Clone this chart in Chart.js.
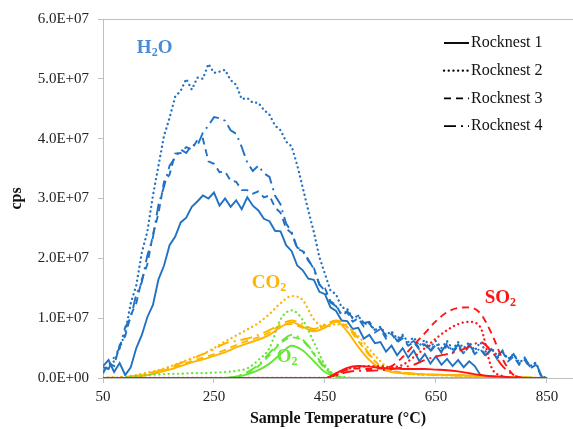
<!DOCTYPE html>
<html>
<head>
<meta charset="utf-8">
<script src="https://cdn.jsdelivr.net/npm/chart.js@4.4.0/dist/chart.umd.min.js"></script>
<style>
  html, body { margin: 0; padding: 0; background: #fff; overflow: hidden; }
  #wrap { width: 573px; height: 429px; position: relative; }
</style>
</head>
<body>
<div id="wrap"><canvas id="egaChart"></canvas></div>
<script>
// Temperaturas (°C) - rejilla fina para H2O, rejilla gruesa para los otros gases
const tempsH2O = [50,60,70,80,90,100,110,120,130,140,150,160,170,180,190,200,210,220,230,240,
  250,260,270,280,290,300,310,320,330,340,350,360,370,380,390,400,410,420,430,440,
  450,460,470,480,490,500,510,520,530,540,550,560,570,580,590,600,610,620,630,640,
  650,660,670,680,690,700,710,720,730,740,750,760,770,780,790,800,810,820,830,840,850];
const tempsGas = [50,70,90,110,130,150,170,190,210,230,250,270,290,310,330,350,370,390,410,430,
  450,470,490,510,530,550,570,590,610,630,650,670,690,710,730,750,770,790,810,830,850];

// Valores en unidades de 1E+07 cps
const h2oRN1 = [0.2,0.3,0.1,0.25,0.05,0.18,0.5,0.72,1.02,1.22,
  1.65,1.88,2.22,2.36,2.6,2.68,2.86,2.95,3.05,3.0,
  3.1,2.88,3.0,2.86,2.97,2.82,3.02,2.88,2.8,2.66,
  2.62,2.46,2.45,2.22,2.12,1.88,1.8,1.66,1.64,1.44,
  1.4,1.18,1.12,0.96,0.95,0.82,0.84,0.66,0.72,0.58,
  0.6,0.44,0.54,0.38,0.5,0.34,0.46,0.28,0.4,0.24,
  0.36,0.22,0.32,0.2,0.3,0.18,0.28,0.2,0.05,0.02,
  0.01,0,0,0,0,0,0,0,0,0,0];
const h2oRN2 = [0.12,0.2,0.28,0.5,0.75,1.25,1.55,2.1,2.45,3.05,
  3.55,4.05,4.35,4.7,4.8,5.0,4.82,5.02,5.0,5.25,
  5.1,5.12,5.15,4.98,4.9,4.66,4.68,4.6,4.6,4.48,
  4.4,4.22,4.14,3.95,3.87,3.56,3.18,2.8,2.44,2.02,
  1.74,1.46,1.4,1.18,1.16,1.0,1.04,0.9,0.92,0.8,
  0.86,0.72,0.78,0.66,0.72,0.6,0.68,0.54,0.64,0.52,
  0.62,0.5,0.62,0.48,0.6,0.5,0.6,0.46,0.6,0.44,
  0.5,0.38,0.44,0.32,0.4,0.26,0.32,0.2,0.26,0.03,0];
const h2oRN3 = [0.08,0.25,0.2,0.55,0.7,1.05,1.25,1.65,1.9,2.4,
  2.75,3.28,3.4,3.75,3.76,3.86,3.82,3.98,4.0,3.62,
  3.58,3.44,3.45,3.3,3.28,3.14,3.14,3.08,3.12,3.02,
  3.05,2.85,2.76,2.5,2.42,2.16,2.12,1.96,1.84,1.56,
  1.5,1.28,1.22,1.05,1.1,0.94,1.0,0.86,0.92,0.76,
  0.82,0.66,0.74,0.6,0.66,0.54,0.6,0.48,0.56,0.44,
  0.56,0.42,0.54,0.42,0.54,0.4,0.54,0.4,0.48,0.36,
  0.48,0.32,0.44,0.28,0.36,0.22,0.3,0.16,0.22,0.03,0];
const h2oRN4 = [0.18,0.15,0.35,0.5,0.85,1.0,1.4,1.6,2.05,2.35,
  2.9,3.2,3.55,3.68,3.82,3.76,3.9,3.88,4.1,4.22,
  4.36,4.34,4.3,4.14,4.08,3.86,3.6,3.46,3.55,3.42,
  3.36,3.05,2.9,2.58,2.44,2.18,2.14,1.98,1.82,1.56,
  1.46,1.26,1.2,1.06,1.12,1.0,1.04,0.92,0.94,0.8,
  0.84,0.7,0.76,0.62,0.7,0.56,0.62,0.5,0.6,0.46,
  0.58,0.44,0.58,0.44,0.56,0.42,0.56,0.42,0.5,0.38,
  0.5,0.34,0.46,0.3,0.4,0.24,0.34,0.18,0.26,0.03,0];

const co2RN1 = [0,0,0,0.02,0.05,0.09,0.14,0.2,0.26,0.31,0.37,0.43,0.51,0.58,0.64,0.72,0.85,0.93,0.86,0.78,
  0.84,0.95,0.78,0.52,0.3,0.16,0.1,0.08,0.07,0.06,0.06,0.05,0.05,0.04,0.04,0.03,0.02,0.01,0.01,0,0];
const co2RN2 = [0,0,0.02,0.05,0.09,0.13,0.19,0.26,0.33,0.4,0.5,0.61,0.71,0.81,0.92,1.07,1.25,1.37,1.3,0.98,
  0.85,0.9,0.85,0.7,0.48,0.28,0.12,0.08,0.06,0.05,0.05,0.04,0.04,0.03,0.03,0.02,0.02,0.01,0.01,0,0];
const co2RN3 = [0,0,0.01,0.03,0.06,0.1,0.16,0.22,0.28,0.34,0.4,0.47,0.55,0.62,0.68,0.76,0.88,0.9,0.84,0.8,
  0.88,0.94,0.85,0.62,0.38,0.2,0.12,0.09,0.07,0.06,0.05,0.05,0.04,0.04,0.03,0.03,0.02,0.01,0.01,0,0];
const co2RN4 = [0,0.01,0.02,0.04,0.08,0.12,0.18,0.25,0.32,0.4,0.48,0.58,0.62,0.66,0.72,0.8,0.9,0.96,0.9,0.82,
  0.9,0.96,0.88,0.66,0.4,0.2,0.12,0.09,0.07,0.06,0.05,0.05,0.04,0.04,0.03,0.03,0.02,0.01,0.01,0,0];

const o2RN1 = [0,0,0,0,0,0,0,0,0,0,0,0,0.02,0.06,0.13,0.24,0.4,0.54,0.46,0.28,
  0.1,0.02,0,0,0,0,0,0,0,0,0,0,0,0,0,0,0,0,0,0,0];
const o2RN2 = [0,0,0.01,0.03,0.05,0.06,0.07,0.07,0.08,0.08,0.09,0.1,0.12,0.16,0.3,0.5,0.98,1.13,0.97,0.6,
  0.22,0.04,0.01,0,0,0,0,0,0,0,0,0,0,0,0,0,0,0,0,0,0];
const o2RN3 = [0,0,0,0,0,0,0,0,0,0,0,0,0.02,0.08,0.2,0.38,0.58,0.68,0.62,0.4,
  0.16,0.03,0,0,0,0,0,0,0,0,0,0,0,0,0,0,0,0,0,0,0];
const o2RN4 = [0,0,0,0,0,0,0,0,0,0,0,0,0.03,0.1,0.22,0.42,0.6,0.72,0.64,0.42,
  0.18,0.04,0,0,0,0,0,0,0,0,0,0,0,0,0,0,0,0,0,0,0];

const so2RN1 = [0,0,0,0,0,0,0,0,0,0,0,0,0,0,0,0,0,0,0,0,
  0,0.08,0.17,0.2,0.19,0.17,0.16,0.15,0.15,0.15,0.14,0.13,0.11,0.08,0.05,0.03,0.02,0.01,0,0,0];
const so2RN2 = [0,0,0,0,0,0,0,0,0,0,0,0,0,0,0,0,0,0,0,0,
  0,0.05,0.15,0.18,0.2,0.2,0.18,0.22,0.35,0.5,0.66,0.8,0.9,0.94,0.85,0.18,0.03,0,0,0,0];
const so2RN3 = [0,0,0,0,0,0,0,0,0,0,0,0,0,0,0,0,0,0,0,0,
  0,0.06,0.14,0.16,0.15,0.16,0.2,0.35,0.55,0.75,0.95,1.1,1.17,1.18,1.08,0.75,0.32,0.05,0,0,0];
const so2RN4 = [0,0,0,0,0,0,0,0,0,0,0,0,0,0,0,0,0,0,0,0,
  0,0.04,0.1,0.12,0.12,0.13,0.15,0.18,0.22,0.3,0.36,0.4,0.45,0.52,0.6,0.45,0.2,0.05,0,0,0];

const sampleNames = ['Rocknest 1', 'Rocknest 2', 'Rocknest 3', 'Rocknest 4'];
const yTicks = [0, 1, 2, 3, 4, 5, 6];
const xTicks = [50, 250, 450, 650, 850];

// Estilos
const COL_H2O = '#2272C3';
const COL_CO2 = '#FFB400';
const COL_O2 = '#66E636';
const COL_SO2 = '#FF1414';
const DASHES = [[], [0.1, 4.6], [7, 5], [12, 5, 2, 5]];
const CAPS = ['butt', 'round', 'butt', 'butt'];
const WIDTHS = [1.9, 2.3, 1.9, 1.9];
const SERIF = '"Liberation Serif", "Times New Roman", serif';

function toXY(temps, vals) {
  return temps.map((t, i) => ({ x: t, y: vals[i] }));
}

function makeSet(label, temps, vals, color, idx) {
  return {
    label: label,
    data: toXY(temps, vals),
    borderColor: color,
    borderWidth: WIDTHS[idx],
    borderDash: DASHES[idx],
    borderCapStyle: CAPS[idx],
    pointRadius: 0,
    fill: false,
    tension: 0,
    cubicInterpolationMode: 'monotone'
  };
}

// El primer dataset queda arriba al dibujar
const datasets = [];
[so2RN1, so2RN2, so2RN3, so2RN4].forEach((v, i) => datasets.push(makeSet('SO2 ' + sampleNames[i], tempsGas, v, COL_SO2, i)));
[o2RN1, o2RN2, o2RN3, o2RN4].forEach((v, i) => datasets.push(makeSet('O2 ' + sampleNames[i], tempsGas, v, COL_O2, i)));
[co2RN1, co2RN2, co2RN3, co2RN4].forEach((v, i) => datasets.push(makeSet('CO2 ' + sampleNames[i], tempsGas, v, COL_CO2, i)));
[h2oRN1, h2oRN2, h2oRN3, h2oRN4].forEach((v, i) => {
  const ds = makeSet('H2O ' + sampleNames[i], tempsH2O, v, COL_H2O, i);
  ds.cubicInterpolationMode = 'default';
  datasets.push(ds);
});

/**
 * Etiquetas químicas con subíndice y leyenda de estilos de línea
 */
function drawFormula(ctx, x, y, parts, color) {
  ctx.save();
  ctx.fillStyle = color;
  ctx.textBaseline = 'middle';
  ctx.textAlign = 'left';
  let cx = x;
  parts.forEach(p => {
    const sub = /\d/.test(p);
    ctx.font = 'bold ' + (sub ? 12 : 19) + 'px ' + SERIF;
    ctx.fillText(p, cx, sub ? y + 5 : y);
    cx += ctx.measureText(p).width;
  });
  ctx.restore();
}

const overlayPlugin = {
  id: 'overlay',
  afterDatasetsDraw(chart) {
    const { ctx, scales: { x, y }, chartArea } = chart;
    drawFormula(ctx, x.getPixelForValue(111), y.getPixelForValue(5.52), ['H', '2', 'O'], '#4A8BD6');
    drawFormula(ctx, x.getPixelForValue(318), y.getPixelForValue(1.59), ['CO', '2'], COL_CO2);
    drawFormula(ctx, x.getPixelForValue(363), y.getPixelForValue(0.35), ['O', '2'], COL_O2);
    drawFormula(ctx, x.getPixelForValue(738), y.getPixelForValue(1.34), ['SO', '2'], COL_SO2);

    // Leyenda
    const lx = chartArea.left + 341;
    ctx.save();
    sampleNames.forEach((name, i) => {
      const ly = chartArea.top + 24 + i * 27.7;
      ctx.strokeStyle = '#000';
      ctx.lineWidth = WIDTHS[i];
      ctx.lineCap = CAPS[i];
      ctx.setLineDash(DASHES[i]);
      ctx.beginPath();
      ctx.moveTo(lx, ly);
      ctx.lineTo(lx + 25, ly);
      ctx.stroke();
      ctx.setLineDash([]);
      ctx.fillStyle = '#111';
      ctx.font = '16px ' + SERIF;
      ctx.textBaseline = 'middle';
      ctx.fillText(name, lx + 27, ly);
    });
    ctx.restore();
  }
};

const AXIS_GRAY = '#BFBFBF';

new Chart(document.getElementById('egaChart'), {
  type: 'line',
  data: { datasets: datasets },
  plugins: [overlayPlugin],
  options: {
    responsive: true,
    maintainAspectRatio: false,
    animation: false,
    devicePixelRatio: 1,
    layout: { padding: { top: 19, left: 0, right: 0, bottom: 0 } },
    plugins: { legend: { display: false }, tooltip: { enabled: false } },
    scales: {
      x: {
        type: 'linear',
        min: 50,
        max: 897,
        afterBuildTicks: s => { s.ticks = xTicks.map(v => ({ value: v })); },
        afterFit: s => { s.height = 51; },
        ticks: { font: { family: SERIF, size: 15 }, color: '#222', padding: 5, maxRotation: 0 },
        grid: { display: true, drawOnChartArea: false, drawTicks: true, tickLength: 5, color: AXIS_GRAY },
        border: { display: true, color: AXIS_GRAY, width: 1 },
        title: { display: true, text: 'Sample Temperature (°C)', font: { family: SERIF, size: 16, weight: 'bold' }, color: '#111', padding: { top: 0, bottom: 1 } }
      },
      xTop: {
        type: 'linear',
        position: 'top',
        min: 50,
        max: 897,
        afterFit: s => { s.height = 0; },
        ticks: { display: false },
        grid: { display: false },
        border: { display: true, color: AXIS_GRAY, width: 1 }
      },
      y: {
        min: 0,
        max: 6,
        afterBuildTicks: s => { s.ticks = yTicks.map(v => ({ value: v })); },
        afterFit: s => { s.width = 103; },
        ticks: {
          font: { family: SERIF, size: 15 },
          color: '#222',
          padding: 9,
          callback: v => v === 0 ? '0.0E+00' : v.toFixed(1) + 'E+07'
        },
        grid: { display: true, drawOnChartArea: false, drawTicks: true, tickLength: 5, color: AXIS_GRAY },
        border: { display: true, color: AXIS_GRAY, width: 1 },
        title: { display: true, text: 'cps', font: { family: SERIF, size: 16, weight: 'bold' }, color: '#111', padding: { top: 7, bottom: 0 } }
      }
    }
  }
});
</script>
</body>
</html>
